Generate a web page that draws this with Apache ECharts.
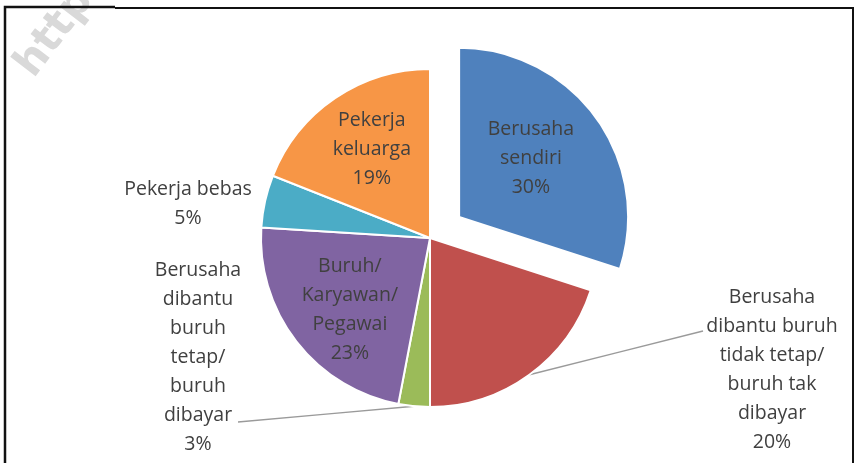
<!DOCTYPE html>
<html>
<head>
<meta charset="utf-8">
<script src="https://cdn.jsdelivr.net/npm/echarts@6/dist/echarts.min.js"></script>
<style>
  html, body { margin: 0; padding: 0; background: #fff; }
  #chart { width: 855px; height: 463px; }
</style>
</head>
<body>
<div id="chart"></div>
<script>
// data
var categories = [
  'Berusaha sendiri',
  'Berusaha dibantu buruh tidak tetap/buruh tak dibayar',
  'Berusaha dibantu buruh tetap/buruh dibayar',
  'Buruh/Karyawan/Pegawai',
  'Pekerja bebas',
  'Pekerja keluarga'
];
var values = [30, 20, 3, 23, 5, 19];
// label text as it is wrapped in the picture
var labelNames = [
  'Berusaha\nsendiri',
  'Berusaha\ndibantu buruh\ntidak tetap/\nburuh tak\ndibayar',
  'Berusaha\ndibantu\nburuh\ntetap/\nburuh\ndibayar',
  'Buruh/\nKaryawan/\nPegawai',
  'Pekerja bebas',
  'Pekerja\nkeluarga'
];
var colors = ['#4F81BD', '#C0504D', '#9BBB59', '#8064A2', '#4BACC6', '#F79646'];
var insideIdx = [0, 3, 5];

var chartDom = document.getElementById('chart');
var myChart = echarts.init(chartDom);

// where the outside labels sit and where their leader lines end
var outsideLabels = {
  1: { x: 772, y: 370, lineEnd: [703, 331] },
  2: { x: 198, y: 357, lineEnd: [238, 422] },
  4: { x: 188, y: 204, lineEnd: null }
};
// nudges for the inside labels
var insideShift = {
  0: [1, -7],
  3: [-11, 18],
  5: [-9, -16]
};

var pieData = categories.map(function (name, i) {
  var inside = insideIdx.indexOf(i) >= 0;
  return {
    name: name,
    value: values[i],
    selected: i === 0,
    itemStyle: { color: colors[i] },
    label: { position: inside ? 'inside' : 'outside' },
    labelLine: { show: i === 1 || i === 2 }
  };
});

var option = {
  animation: false,
  graphic: [
    {
      type: 'text',
      left: 8,
      top: -20,
      rotation: 0.92,
      originX: 45,
      originY: 45,
      style: {
        text: 'http',
        font: 'bold 42px "DejaVu Sans"',
        fill: '#d9d9d9'
      },
      silent: true
    },
    {
      type: 'polyline',
      shape: { points: [[5, 465], [5, 7], [115, 7]] },
      style: { stroke: '#111', lineWidth: 2.5, fill: null },
      silent: true
    },
    {
      type: 'polyline',
      shape: { points: [[115, 8], [853, 8], [853, 465]] },
      style: { stroke: '#111', lineWidth: 2, fill: null },
      silent: true
    }
  ],
  series: [
    {
      type: 'pie',
      center: [430, 238],
      radius: 169,
      startAngle: 90,
      clockwise: true,
      selectedMode: 'single',
      selectedOffset: 36,
      emphasis: { disabled: true },
      itemStyle: { borderColor: '#fff', borderWidth: 2 },
      label: {
        color: '#404040',
        fontFamily: '"Open Sans", sans-serif',
        fontSize: 19.5,
        lineHeight: 29,
        align: 'center',
        formatter: function (p) {
          return labelNames[p.dataIndex] + '\n' + p.value + '%';
        }
      },
      labelLine: {
        lineStyle: { color: '#9a9a9a', width: 1.5 },
        length: 20,
        length2: 20
      },
      labelLayout: function (params) {
        var i = params.dataIndex;
        if (insideShift[i]) {
          return { dx: insideShift[i][0], dy: insideShift[i][1] };
        }
        var o = outsideLabels[i];
        if (!o) return {};
        var res = { x: o.x, y: o.y, align: 'center', verticalAlign: 'middle' };
        if (o.lineEnd && params.labelLinePoints) {
          var p0 = params.labelLinePoints[0];
          res.labelLinePoints = [
            p0,
            [(p0[0] + o.lineEnd[0]) / 2, (p0[1] + o.lineEnd[1]) / 2],
            o.lineEnd
          ];
        }
        return res;
      },
      data: pieData
    }
  ]
};

option && myChart.setOption(option);
</script>
</body>
</html>
